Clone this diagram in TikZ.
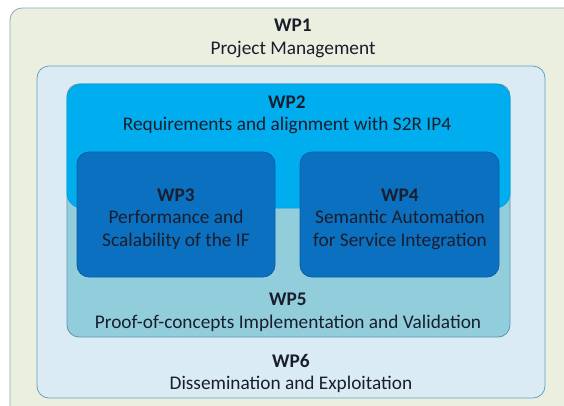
\documentclass[tikz,border=0pt]{standalone}
\usepackage{fontspec}
\setmainfont{Carlito}
\usepackage{xcolor}
\usepackage{tikz}
\usetikzlibrary{positioning}
\definecolor{wponefill}{RGB}{235,239,224}
\definecolor{wponeline}{RGB}{140,170,180}
\definecolor{wpsixfill}{RGB}{218,235,244}
\definecolor{wpsixline}{RGB}{100,160,195}
\definecolor{wpfivefill}{RGB}{146,205,220}
\definecolor{wpfiveline}{RGB}{90,150,180}
\definecolor{wptwofill}{RGB}{0,174,239}
\definecolor{wptwoline}{RGB}{0,160,225}
\definecolor{wpcorefill}{RGB}{12,112,192}
\definecolor{wpcoreline}{RGB}{10,95,170}
\definecolor{wptext}{RGB}{25,30,45}

\begin{document}
\begin{tikzpicture}[x=1pt, y=-1pt,
  wpbox/.style={rectangle, rounded corners=12pt, line width=0.8pt, inner sep=0pt},
  lab/.style={align=center, text=wptext, inner sep=0pt,
              font=\fontsize{19.3}{22.5}\selectfont}]
\useasboundingbox (0,0) rectangle (564,405);
\clip (0,0) rectangle (564,405);
% nested work packages
\node[wpbox, draw=wponeline, fill=wponefill, minimum width=590pt, minimum height=412pt] (wp1) at (305,214) {};
\node[wpbox, draw=wpsixline, fill=wpsixfill, minimum width=508pt, minimum height=332pt] (wp6) at (291,232) {};
\node[wpbox, draw=wpfiveline, fill=wpfivefill, minimum width=443pt, minimum height=253pt] (wp5) at (288.5,210.5) {};
\node[wpbox, draw=wptwoline, fill=wptwofill, rounded corners=15pt, minimum width=443pt, minimum height=124pt] (wp2) at (288.5,146) {};
\node[wpbox, draw=wpcoreline, fill=wpcorefill, minimum width=198pt, minimum height=125pt] (wp3) at (176,214.5) {};
\node[wpbox, draw=wpcoreline, fill=wpcorefill, minimum width=199pt, minimum height=125pt] (wp4) at (399.5,214.5) {};
% labels
\node[lab] (wp1lab) at (293,38.5) {\textbf{WP1}\\Project Management};
\node[lab] (wp2lab) at (287,115) {\textbf{WP2}\\Requirements and alignment with S2R IP4};
\node[lab] (wp3lab) at (176,219) {\textbf{WP3}\\Performance and\\Scalability of the IF};
\node[lab] (wp4lab) at (400,219) {\textbf{WP4}\\Semantic Automation\\for Service Integration};
\node[lab] (wp5lab) at (288,312.5) {\textbf{WP5}\\Proof-of-concepts Implementation and Validation};
\node[lab] (wp6lab) at (291,373.5) {\textbf{WP6}\\Dissemination and Exploitation};
\end{tikzpicture}
\end{document}
